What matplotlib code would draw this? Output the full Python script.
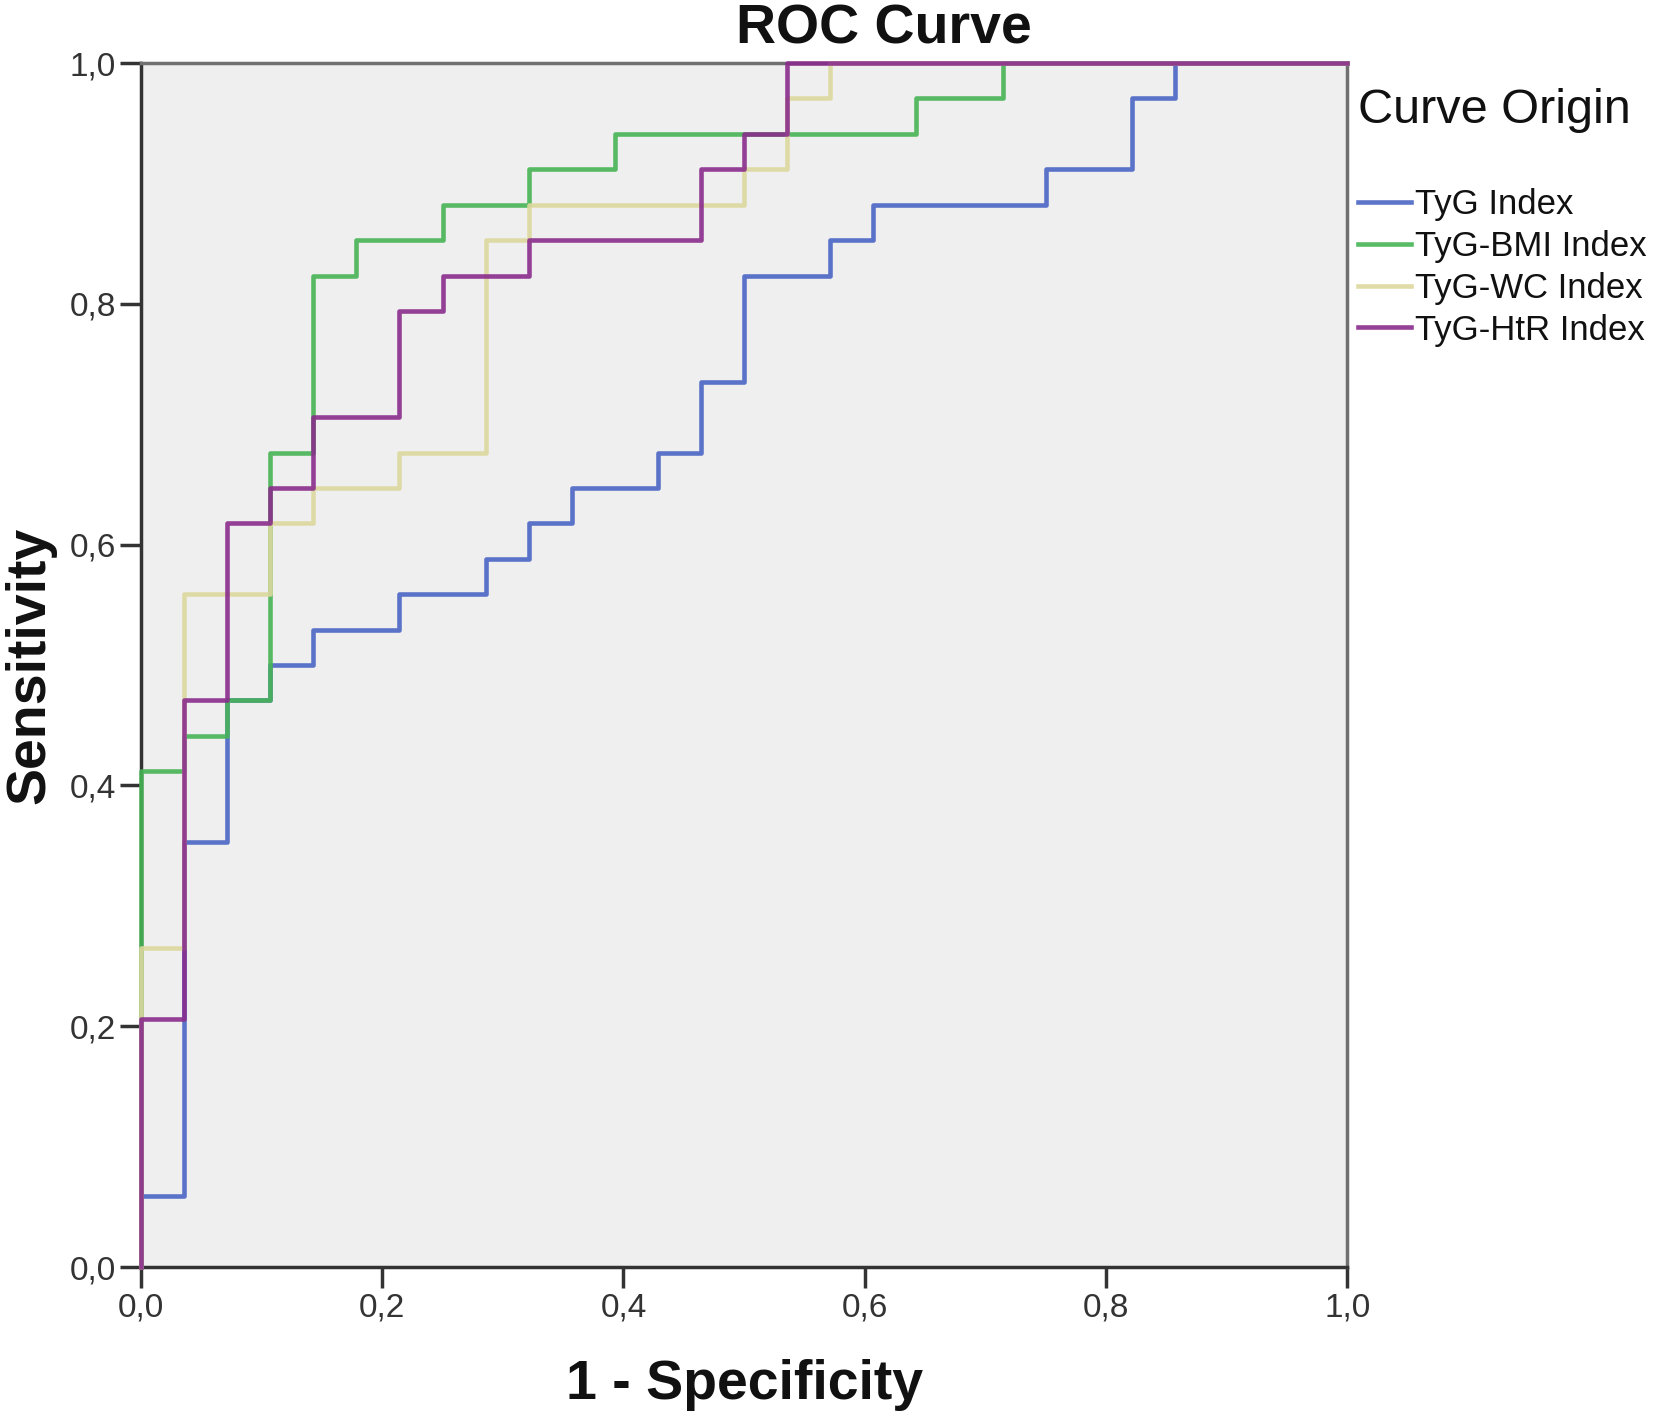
import matplotlib
matplotlib.use("Agg")
import matplotlib.pyplot as plt
from matplotlib.ticker import FuncFormatter

plt.rcParams['font.family'] = ['Liberation Sans', 'DejaVu Sans']

# ROC points as counts: 28 negatives (x), 34 positives (y)
n_neg = 28
n_pos = 34

tyg_fp = [0, 0, 1, 2, 3, 4, 6, 8, 9, 10, 12, 13, 14, 16, 17, 21, 23, 24, 28]
tyg_tp = [0, 2, 12, 16, 17, 18, 19, 20, 21, 22, 23, 25, 28, 29, 30, 31, 33, 34, 34]

bmi_fp = [0, 0, 1, 2, 3, 4, 5, 7, 9, 11, 18, 20, 28]
bmi_tp = [0, 14, 15, 16, 23, 28, 29, 30, 31, 32, 33, 34, 34]

wc_fp = [0, 0, 1, 3, 4, 6, 8, 9, 14, 15, 16, 28]
wc_tp = [0, 9, 19, 21, 22, 23, 29, 30, 31, 33, 34, 34]

htr_fp = [0, 0, 1, 2, 3, 4, 6, 7, 9, 13, 14, 15, 28]
htr_tp = [0, 7, 16, 21, 22, 24, 27, 28, 29, 31, 32, 34, 34]

labels = ["TyG Index", "TyG-BMI Index", "TyG-WC Index", "TyG-HtR Index"]
colors = ["#4a66c4", "#46b455", "#ddd89e", "#8a2c8c"]

fig = plt.figure(figsize=(16.55, 14.23), dpi=100)
ax = fig.add_axes([0.0852, 0.1096, 0.7288, 0.8461])
ax.set_facecolor("#efefef")

curves = [(tyg_fp, tyg_tp), (bmi_fp, bmi_tp), (wc_fp, wc_tp), (htr_fp, htr_tp)]
for (fp, tp), lab, col in zip(curves, labels, colors):
    x = [v / n_neg for v in fp]
    y = [v / n_pos for v in tp]
    ax.plot(x, y, drawstyle="steps-post", color=col, lw=3.3, alpha=0.9,
            label=lab, clip_on=False, zorder=3)

ax.set_xlim(0, 1)
ax.set_ylim(0, 1)
ticks = [0, 0.2, 0.4, 0.6, 0.8, 1.0]
ax.set_xticks(ticks)
ax.set_yticks(ticks)
fmt = FuncFormatter(lambda v, p: ("%.1f" % v).replace(".", ","))
ax.xaxis.set_major_formatter(fmt)
ax.yaxis.set_major_formatter(fmt)
ax.tick_params(length=15, width=2.5, color="#333333", labelsize=24,
               labelcolor="#333333", pad=3)

for side in ["left", "bottom"]:
    ax.spines[side].set_color("#333333")
    ax.spines[side].set_linewidth(2.5)
for side in ["top", "right"]:
    ax.spines[side].set_color("#707070")
    ax.spines[side].set_linewidth(2.5)

ax.set_xlabel("1 - Specificity", fontsize=40, fontweight="bold", labelpad=26,
              color="#111111")
ax.set_ylabel("Sensitivity", fontsize=40, fontweight="bold", color="#111111")
ax.yaxis.set_label_coords(-0.092, 0.5)
ax.yaxis.label.set_verticalalignment("center")
fig.text(0.534, 0.979, "ROC Curve", fontsize=40, fontweight="bold",
         ha="center", va="center", color="#111111")

leg = ax.legend(loc="upper left", bbox_to_anchor=(1.0, 0.988), frameon=False,
                fontsize=25, title="Curve Origin", title_fontsize=35,
                handlelength=1.55, handletextpad=0.1, labelspacing=0.25,
                borderaxespad=0.3, borderpad=0.0)
leg._legend_box.align = "left"
leg.get_title().set_color("#111111")
for t in leg.get_texts():
    t.set_color("#111111")
# gap between title and entries
leg._legend_box.sep = 40

fig.savefig("out.png", dpi=100)
